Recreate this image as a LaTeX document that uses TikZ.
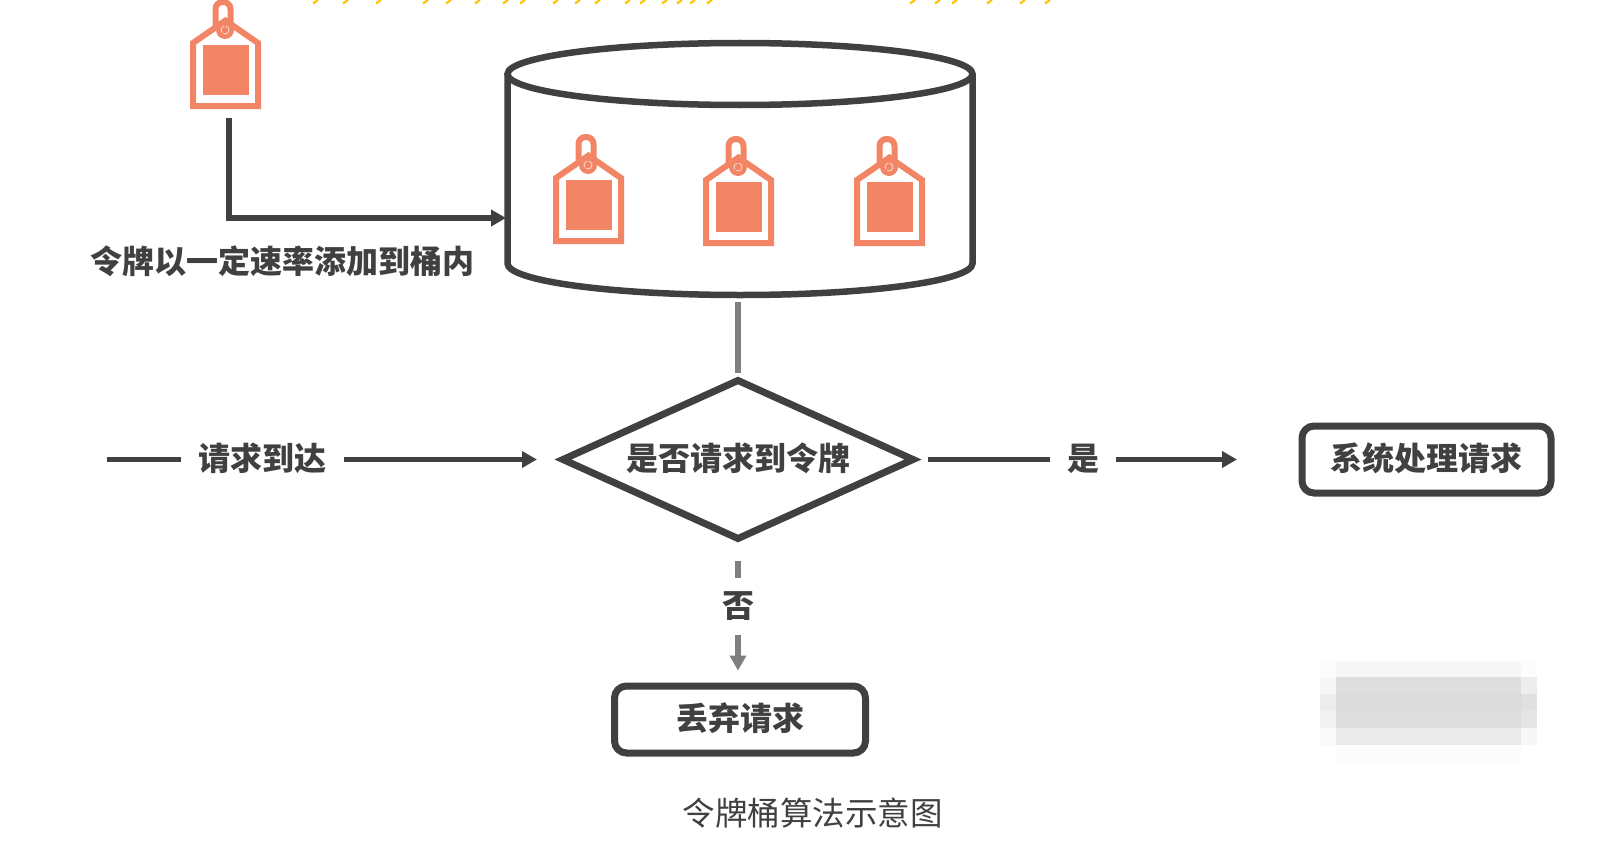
\documentclass[tikz,border=0pt]{standalone}
\usepackage{fontspec}
\usepackage{xcolor}
\usepackage{tikz}
\usetikzlibrary{arrows.meta,positioning,shapes.geometric}
\setmainfont{Noto Sans CJK SC}
\definecolor{inkdark}{HTML}{404040}
\definecolor{inkgray}{HTML}{7F7F7F}
\definecolor{tagred}{HTML}{F28565}
\definecolor{topyellow}{HTML}{FFC000}

\begin{document}
\begin{tikzpicture}[
x=1pt, y=-1pt,
every node/.style={inner sep=0pt, outer sep=0pt},
bucket/.style={minimum width=465pt, minimum height=250pt},
bucketline/.style={draw=inkdark, line width=6.5pt},
decision/.style={draw=inkdark, line width=7pt, diamond, aspect=2.2, minimum width=350pt, minimum height=158pt, flowtext},
flowtext/.style={text=inkdark, text height=26.4pt, text depth=4pt, font=\fontsize{32}{36}\selectfont\bfseries},
result/.style={draw=inkdark, line width=7pt, rounded corners=12pt, minimum height=67pt, flowtext},
flowlabel/.style={flowtext},
darkline/.style={draw=inkdark, line width=5.5pt},
grayline/.style={draw=inkgray, line width=5.5pt},
darkarrow/.style={darkline, -{Triangle[length=15pt,width=16pt]}},
grayarrow/.style={grayline, -{Triangle[length=15pt,width=16pt]}},
tag/.pic={
\draw[tagred, line width=6pt, rounded corners=7pt] (-10.5,-30) -- (-10.5,-68) -- (4.5,-68) -- (4.5,-30);
\fill[white] (-0.5,-49.5) -- (32,-27) -- (32,36) -- (-33,36) -- (-33,-27) -- cycle;
\draw[tagred, line width=6pt, miter limit=2] (-0.5,-49.5) -- (32,-27) -- (32,36) -- (-33,36) -- (-33,-27) -- cycle;
\fill[tagred] (-23,-25) rectangle (23,25);
\fill[tagred] (-1,-40) circle (9);
\draw[white!70!tagred, line width=0.8pt, dash pattern=on 8pt off 1.5pt] (-1,-40) circle (4);
}
]
\useasboundingbox (0,0) rectangle (1619,859);

\foreach \markx in {318,348,381,428,451,480,508,525,558,580,600,630,645,667,682,695,712,915,940,957,992,1025,1050}
  \draw[topyellow, line width=2pt] (\markx,0) -- +(-5,3.5);

\foreach \blury/\blurleft/\blurmid/\blurright in {661/1/3/1,677/3/13/7,694/7/14/12,711/5/13/10,728/2/8/3,745/0/1/0}{
  \fill[black!\blurleft] (1320,\blury) rectangle +(16,17);
  \fill[black!\blurmid] (1336,\blury) rectangle +(185,17);
  \fill[black!\blurright] (1521,\blury) rectangle +(16,17);
}

\node[decision] (decide) at (738,459.5) {是否请求到令牌};
\node[bucket, above=87pt of decide, xshift=2pt] (tokens) {};
\node[flowlabel, minimum width=163pt, left=219pt of decide] (reqlabel) {请求到达};
\node[flowlabel, minimum width=66pt, right=137pt of decide] (yeslabel) {是};
\node[flowlabel, minimum height=57pt, below=39pt of decide] (nolabel) {否};
\node[result, minimum width=249pt, right=186pt of yeslabel] (system) {系统处理请求};
\node[result, minimum width=251pt, below=51.5pt of nolabel, xshift=2pt] (discard) {丢弃请求};
\node[flowlabel] (addlabel) at (282.5,262) {令牌以一定速率添加到桶内};
\node[text=inkdark, font=\fontsize{32.5}{38}\selectfont] (caption) at (812.5,813) {令牌桶算法示意图};

\draw[bucketline] (tokens.north west) ++(0,30.5) -- ++(0,189.5) arc[start angle=180, end angle=0, x radius=232.5, y radius=31.5] -- ++(0,-189.5);
\draw[bucketline] (tokens.north) ++(0,30.5) ellipse[x radius=232.5, y radius=31];

\pic at (226,70) {tag};
\pic at (589,205) {tag};
\pic at (739,207) {tag};
\pic at (890,207) {tag};

\coordinate (tagfoot) at (229,118);
\coordinate (tokensin) at (506,218);
\coordinate (reqstart) at (107,459.5);

\draw[darkarrow] (tagfoot) |- (tokensin);
\draw[grayline, shorten <=8pt, shorten >=7.5pt] (decide |- tokens.south) -- (decide);
\draw[darkline] (reqstart) -- (reqlabel);
\draw[darkarrow, shorten >=26pt] (reqlabel) -- (decide);
\draw[darkline, shorten <=15pt] (decide) -- (yeslabel);
\draw[darkarrow, shorten >=65pt] (yeslabel) -- (system);
\draw[grayline, shorten <=22.5pt] (decide) -- (nolabel);
\draw[grayarrow, shorten >=15.5pt] (nolabel) -- (nolabel |- discard.north);
\end{tikzpicture}
\end{document}
